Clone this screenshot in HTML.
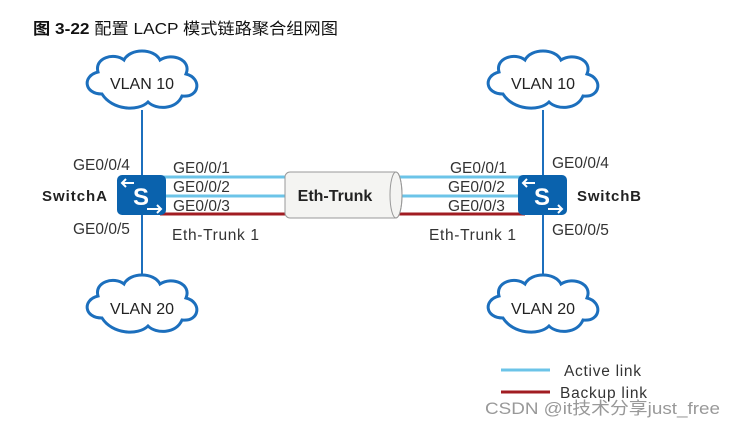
<!DOCTYPE html>
<html><head><meta charset="utf-8"><style>
body{margin:0;background:#fff;width:737px;height:426px;overflow:hidden}
svg text{font-family:"Liberation Sans","Noto Sans CJK SC",sans-serif}
</style></head><body>
<svg width="737" height="426" viewBox="0 0 737 426" xmlns="http://www.w3.org/2000/svg">
<defs>
<g id="cloud">
<path d="M-40,12 C-58,12 -60,-6 -44,-10 C-48,-24 -28,-30 -18,-22 C-12,-34 12,-34 18,-22 C30,-30 50,-22 44,-8 C60,-4 58,16 40,14 C34,28 14,28 6,20 C-4,30 -30,28 -40,12 Z" fill="#fff" stroke="#1c6fbd" stroke-width="3"/>
</g>
<g id="sw">
<rect x="0" y="0" width="49" height="40" rx="5" fill="#0a62ad"/>
<text x="24" y="30" font-size="24" fill="#fff" text-anchor="middle" font-weight="bold">S</text>
<path d="M17,8 H5 M9,4 L5,8 L9,12" stroke="#fff" stroke-width="2" fill="none"/>
<path d="M30,34 H44 M40,30 L44,34 L40,38" stroke="#fff" stroke-width="2" fill="none"/>
</g>
</defs>
<text x="33" y="34" font-size="16" font-weight="bold" fill="#111" textLength="305" lengthAdjust="spacingAndGlyphs">图 3-22 <tspan font-weight="normal">配置 LACP 模式链路聚合组网图</tspan></text>
<line x1="142" y1="110" x2="142" y2="285" stroke="#1c6fbd" stroke-width="2"/>
<line x1="543" y1="110" x2="543" y2="285" stroke="#1c6fbd" stroke-width="2"/>
<use href="#cloud" x="142" y="82"/>
<use href="#cloud" x="543" y="82"/>
<use href="#cloud" x="142" y="306"/>
<use href="#cloud" x="543" y="306"/>
<g font-size="16" fill="#222" text-anchor="middle">
<text x="142" y="89">VLAN 10</text><text x="543" y="89">VLAN 10</text>
<text x="142" y="314">VLAN 20</text><text x="543" y="314">VLAN 20</text>
</g>
<line x1="160" y1="177" x2="290" y2="177" stroke="#6cc4e8" stroke-width="3"/>
<line x1="160" y1="196" x2="290" y2="196" stroke="#6cc4e8" stroke-width="3"/>
<line x1="160" y1="214" x2="290" y2="214" stroke="#a11c22" stroke-width="3"/>
<line x1="395" y1="177" x2="525" y2="177" stroke="#6cc4e8" stroke-width="3"/>
<line x1="395" y1="196" x2="525" y2="196" stroke="#6cc4e8" stroke-width="3"/>
<line x1="395" y1="214" x2="525" y2="214" stroke="#a11c22" stroke-width="3"/>
<path d="M290,172 H396 A6,23 0 0 1 396,218 H290 A5,5 0 0 1 285,213 V177 A5,5 0 0 1 290,172 Z" fill="#f4f4f2" stroke="#999" stroke-width="1"/>
<ellipse cx="396" cy="195" rx="6" ry="23" fill="none" stroke="#999"/>
<text x="335" y="201" font-size="16" font-weight="bold" fill="#222" text-anchor="middle">Eth-Trunk</text>
<use href="#sw" x="117" y="175"/>
<use href="#sw" x="518" y="175"/>
<g font-size="15.5" fill="#333">
<text x="73" y="170">GE0/0/4</text><text x="73" y="234">GE0/0/5</text>
<text x="173" y="173">GE0/0/1</text><text x="173" y="192">GE0/0/2</text><text x="173" y="211">GE0/0/3</text>
<text x="172" y="240" textLength="87">Eth-Trunk 1</text>
<text x="450" y="173">GE0/0/1</text><text x="448" y="192">GE0/0/2</text><text x="448" y="211">GE0/0/3</text>
<text x="429" y="240" textLength="87">Eth-Trunk 1</text>
<text x="552" y="168">GE0/0/4</text><text x="552" y="235">GE0/0/5</text>
<text x="564" y="376" textLength="77">Active link</text><text x="560" y="398" textLength="87">Backup link</text>
</g>
<text x="42" y="201" font-size="15" font-weight="bold" fill="#222" textLength="65">SwitchA</text>
<text x="577" y="201" font-size="15" font-weight="bold" fill="#222" textLength="64">SwitchB</text>
<line x1="501" y1="370" x2="550" y2="370" stroke="#6cc4e8" stroke-width="3"/>
<line x1="501" y1="392" x2="550" y2="392" stroke="#a11c22" stroke-width="3"/>
<text x="485" y="414" font-size="17" fill="#999" textLength="235" lengthAdjust="spacingAndGlyphs">CSDN @it技术分享just_free</text>
</svg>
</body></html>
